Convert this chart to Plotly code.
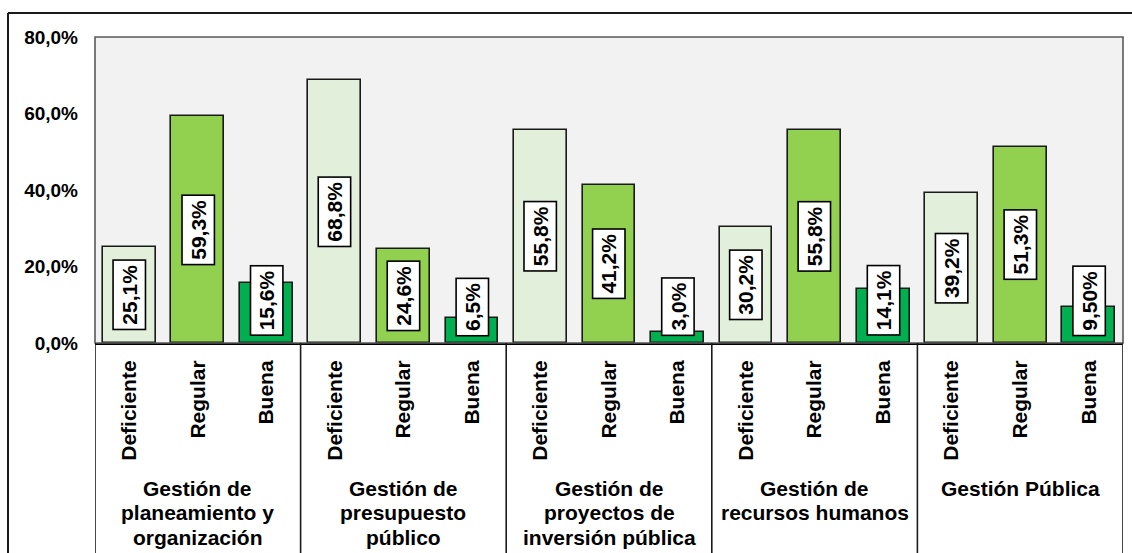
import plotly.graph_objects as go
import numpy as np

groups = [
    "Gestión de<br>planeamiento y<br>organización",
    "Gestión de<br>presupuesto<br>público",
    "Gestión de<br>proyectos de<br>inversión pública",
    "Gestión de<br>recursos humanos",
    "Gestión Pública",
]
levels = ["Deficiente", "Regular", "Buena"]
deficiente = [25.1, 68.8, 55.8, 30.2, 39.2]
regular = [59.3, 24.6, 41.2, 55.8, 51.3]
buena = [15.6, 6.5, 3.0, 14.1, 9.5]
label_deficiente = ["25,1%", "68,8%", "55,8%", "30,2%", "39,2%"]
label_regular = ["59,3%", "24,6%", "41,2%", "55,8%", "51,3%"]
label_buena = ["15,6%", "6,5%", "3,0%", "14,1%", "9,50%"]
y_ticks = [0, 20, 40, 60, 80]
y_ticktext = ["0,0%", "20,0%", "40,0%", "60,0%", "80,0%"]

colors = ["#E2EFDA", "#92D050", "#00B050"]
FONT = "Liberation Sans, Arial, sans-serif"

W, H = 1132, 553
ML, MR, MT, MB = 95, 9, 37, 210
PW, PH = W - ML - MR, H - MT - MB

def px_x(p):
    return (p - ML) / PW

def px_y(p):
    return (H - MB - p) / PH

n_groups = len(groups)
n_lev = len(levels)
series = [deficiente, regular, buena]
labels = [label_deficiente, label_regular, label_buena]

fig = go.Figure()
for k in range(n_lev):
    xs = np.arange(n_groups) * n_lev + k
    fig.add_trace(go.Bar(
        x=xs, y=series[k], width=0.77,
        marker=dict(color=colors[k], line=dict(color="#1a1a1a", width=1.6)),
        showlegend=False, hoverinfo="skip",
    ))
    for g in range(n_groups):
        v = series[k][g]
        if v >= 20:
            yv, ya = v / 2, "middle"
        else:
            yv, ya = 1.8, "bottom"
        fig.add_annotation(
            x=xs[g], y=yv, xref="x", yref="y", text=labels[k][g],
            textangle=-90, showarrow=False, yanchor=ya, xanchor="center",
            font=dict(family=FONT, size=21, color="black", weight="bold"),
            bgcolor="white", bordercolor="black", borderwidth=1.6, borderpad=4,
        )

all_x = np.arange(n_groups * n_lev)
fig.update_xaxes(
    range=[-0.5, n_groups * n_lev - 0.5],
    tickvals=all_x, ticktext=levels * n_groups, tickangle=-90,
    tickfont=dict(family=FONT, size=21, color="black", weight="bold"),
    showgrid=False, zeroline=False, ticks="", ticklabelstandoff=7,
    showline=True, linecolor="black", linewidth=2,
)
fig.update_yaxes(
    range=[0, 80], tickvals=y_ticks, ticktext=y_ticktext,
    tickfont=dict(family=FONT, size=19, color="black", weight="bold"),
    showgrid=False, zeroline=False, ticks="", ticklabelstandoff=16,
    showline=False,
)

# plot area border
fig.add_shape(type="rect", xref="paper", yref="paper", x0=0, x1=1, y0=0, y1=1,
              line=dict(color="#595959", width=1.6), layer="above")

# group dividers
for g in range(n_groups + 1):
    xd = g * n_lev - 0.5
    fig.add_shape(type="line", xref="x", yref="paper", x0=xd, x1=xd,
                  y0=0, y1=px_y(H), line=dict(color="#1a1a1a", width=1.6))

# group labels (one annotation per line for tighter line spacing)
LINE_TOP, LINE_STEP = 488, 24.5
for g in range(n_groups):
    for i, line in enumerate(groups[g].split("<br>")):
        fig.add_annotation(
            x=g * n_lev + 1, y=px_y(LINE_TOP + i * LINE_STEP), xref="x", yref="paper",
            text=line, showarrow=False, yanchor="middle", xanchor="center",
            font=dict(family=FONT, size=21, color="black", weight="bold"),
        )

# outer frame (top and left)
fig.add_shape(type="line", xref="paper", yref="paper",
              x0=px_x(8), x1=px_x(W), y0=px_y(13), y1=px_y(13),
              line=dict(color="#1a1a1a", width=2))
fig.add_shape(type="line", xref="paper", yref="paper",
              x0=px_x(8), x1=px_x(8), y0=px_y(13), y1=px_y(H),
              line=dict(color="#1a1a1a", width=2))

fig.update_layout(
    width=W, height=H, margin=dict(l=ML, r=MR, t=MT, b=MB),
    plot_bgcolor="#F2F2F2", paper_bgcolor="white",
    separators=",.", bargap=0, barmode="overlay",
    font=dict(family=FONT),
)

fig.write_html("out.html")
